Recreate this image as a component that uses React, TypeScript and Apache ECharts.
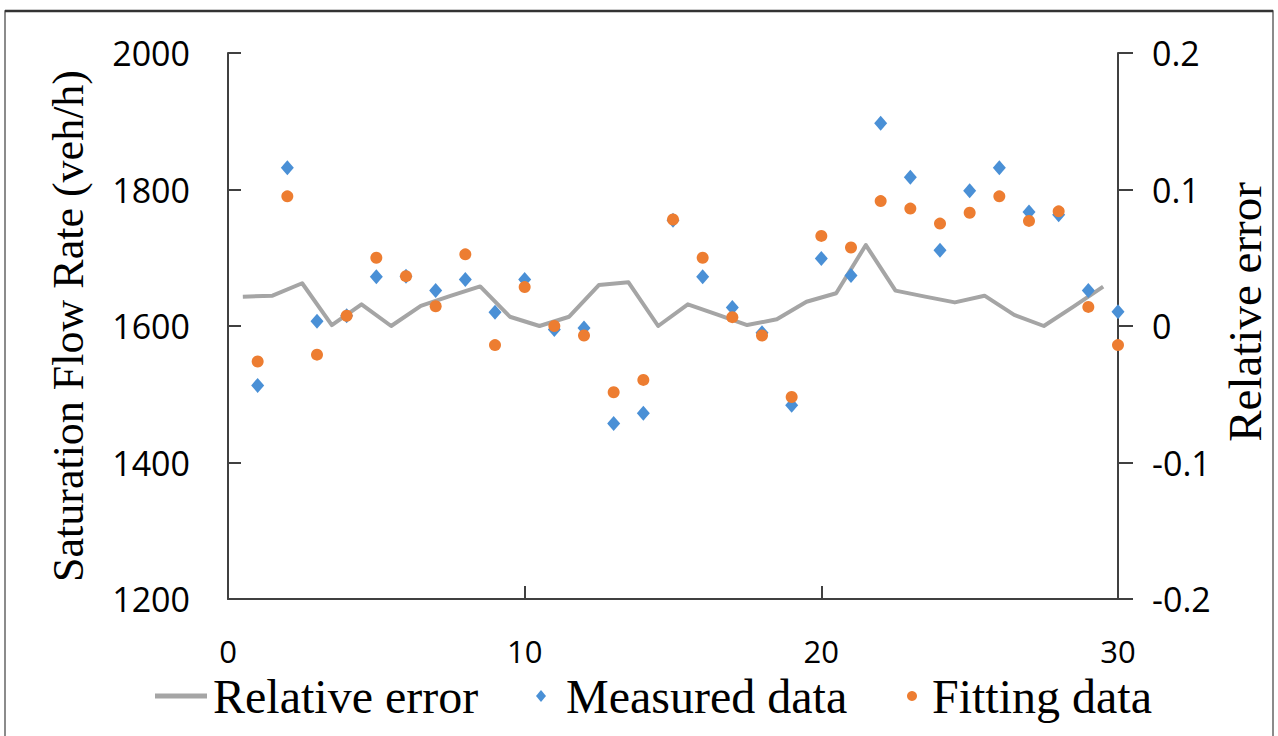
import React, { useEffect, useRef } from "react";
import * as echarts from "echarts";

// ---- data ----
const samples = [1, 2, 3, 4, 5, 6, 7, 8, 9, 10, 11, 12, 13, 14, 15, 16, 17, 18, 19, 20, 21, 22, 23, 24, 25, 26, 27, 28, 29, 30];
const measured = [1513, 1832, 1607, 1615, 1672, 1673, 1652, 1668, 1620, 1668, 1595, 1597, 1457, 1472, 1755, 1672, 1627, 1590, 1484, 1699, 1674, 1897, 1818, 1711, 1798, 1832, 1767, 1763, 1652, 1621];
const fitting = [1548, 1790, 1558, 1615, 1700, 1673, 1629, 1705, 1572, 1657, 1600, 1586, 1503, 1521, 1756, 1700, 1613, 1586, 1496, 1732, 1715, 1783, 1772, 1750, 1766, 1790, 1754, 1768, 1628, 1572];
const relativeError = [0.0215, 0.0222, 0.0313, 0.0007, 0.0159, 0.0, 0.0147, 0.022, 0.029, 0.0068, 0.0, 0.0068, 0.030, 0.032, 0.0, 0.0159, 0.0083, 0.0007, 0.0049, 0.0178, 0.024, 0.0593, 0.0259, 0.0215, 0.0173, 0.0222, 0.0081, 0.0, 0.0142, 0.0288];

const seriesNames = ["Relative error", "Measured data", "Fitting data"];
const leftAxisTitle = "Saturation Flow Rate (veh/h)";
const rightAxisTitle = "Relative error";

const SERIF = "'Liberation Serif', 'Times New Roman', serif";
const SANS = "'Open Sans', 'Noto Sans', sans-serif";
const AXIS_COLOR = "#404040";

export default function App() {
  const ref = useRef<HTMLDivElement>(null);

  useEffect(() => {
    document.body.style.margin = "0";
    const chart = echarts.init(ref.current!, null, { renderer: "svg" });

    const lineData = samples.map((s, i) => [s - 0.5, relativeError[i]]);
    const measuredData = samples.map((s, i) => [s, measured[i]]);
    const fittingData = samples.map((s, i) => [s, fitting[i]]);

    const legendText = { fontFamily: SERIF, fontSize: 48, color: "#000" };

    chart.setOption({
      animation: false,
      backgroundColor: "#fff",
      grid: { left: 228, right: 160, top: 53, bottom: 137, containLabel: false },
      xAxis: {
        type: "value",
        min: 0,
        max: 30,
        interval: 10,
        splitLine: { show: false },
        axisLine: { show: true, onZero: false, lineStyle: { color: AXIS_COLOR, width: 2 } },
        axisTick: { show: true, inside: true, length: 13, lineStyle: { color: AXIS_COLOR, width: 2 } },
        axisLabel: { fontFamily: SANS, fontSize: 31, color: "#000", margin: 36, formatter: (v: number) => String(v) },
      },
      yAxis: [
        {
          type: "value",
          position: "left",
          min: 1200,
          max: 2000,
          interval: 200,
          name: leftAxisTitle,
          nameLocation: "middle",
          nameRotate: 90,
          nameGap: 138,
          nameTextStyle: { fontFamily: SERIF, fontSize: 44, color: "#000" },
          splitLine: { show: false },
          axisLine: { show: true, onZero: false, lineStyle: { color: AXIS_COLOR, width: 2 } },
          axisTick: { show: true, inside: true, length: 13, lineStyle: { color: AXIS_COLOR, width: 2 } },
          axisLabel: { fontFamily: SANS, fontSize: 34, color: "#000", margin: 38, formatter: (v: number) => String(v) },
        },
        {
          type: "value",
          position: "right",
          min: -0.2,
          max: 0.2,
          interval: 0.1,
          name: rightAxisTitle,
          nameLocation: "middle",
          nameRotate: 90,
          nameGap: 98,
          nameTextStyle: { fontFamily: SERIF, fontSize: 47, color: "#000", padding: [0, 0, 0, 28] },
          splitLine: { show: false },
          axisLine: { show: true, onZero: false, lineStyle: { color: AXIS_COLOR, width: 2 } },
          axisTick: { show: true, inside: false, length: 15, lineStyle: { color: AXIS_COLOR, width: 2 } },
          axisLabel: {
            fontFamily: SANS,
            fontSize: 34,
            color: "#000",
            margin: 34,
            align: "left",
            formatter: (v: number) => String(Math.round(v * 10) / 10),
          },
        },
      ],
      legend: [
        {
          data: [{ name: seriesNames[0], icon: "rect" }],
          left: 155,
          top: 672,
          padding: 0,
          itemWidth: 52,
          itemHeight: 5,
          textStyle: { ...legendText, padding: [0, 0, 0, 1] },
        },
        {
          data: [{ name: seriesNames[1], icon: "diamond" }],
          left: 536,
          top: 672,
          padding: 0,
          itemWidth: 10,
          itemHeight: 12,
          textStyle: { ...legendText, padding: [0, 0, 0, 15] },
        },
        {
          data: [{ name: seriesNames[2], icon: "circle" }],
          left: 907,
          top: 672,
          padding: 0,
          itemWidth: 10,
          itemHeight: 10,
          textStyle: { ...legendText, padding: [0, 0, 0, 10] },
        },
      ],
      graphic: [
        {
          type: "rect",
          silent: true,
          shape: { x: 5, y: 11, width: 1268, height: 760 },
          style: { fill: "none", stroke: "#666", lineWidth: 1.5 },
        },
        {
          type: "line",
          silent: true,
          shape: { x1: 5, y1: 11, x2: 1273, y2: 11 },
          style: { stroke: "#333", lineWidth: 2.5 },
        },
      ],
      series: [
        {
          name: seriesNames[0],
          type: "line",
          yAxisIndex: 1,
          data: lineData,
          showSymbol: false,
          symbol: "none",
          clip: false,
          lineStyle: { color: "#A5A5A5", width: 4, join: "round" },
          itemStyle: { color: "#A5A5A5" },
          z: 2,
        },
        {
          name: seriesNames[1],
          type: "scatter",
          yAxisIndex: 0,
          data: measuredData,
          symbol: "diamond",
          symbolSize: [13, 15],
          clip: false,
          itemStyle: { color: "#4A90D6", opacity: 1 },
          z: 3,
        },
        {
          name: seriesNames[2],
          type: "scatter",
          yAxisIndex: 0,
          data: fittingData,
          symbol: "circle",
          symbolSize: 12,
          clip: false,
          itemStyle: { color: "#ED7D31", opacity: 1 },
          z: 4,
        },
      ],
    });

    return () => chart.dispose();
  }, []);

  return <div ref={ref} style={{ width: 1278, height: 736 }} />;
}
